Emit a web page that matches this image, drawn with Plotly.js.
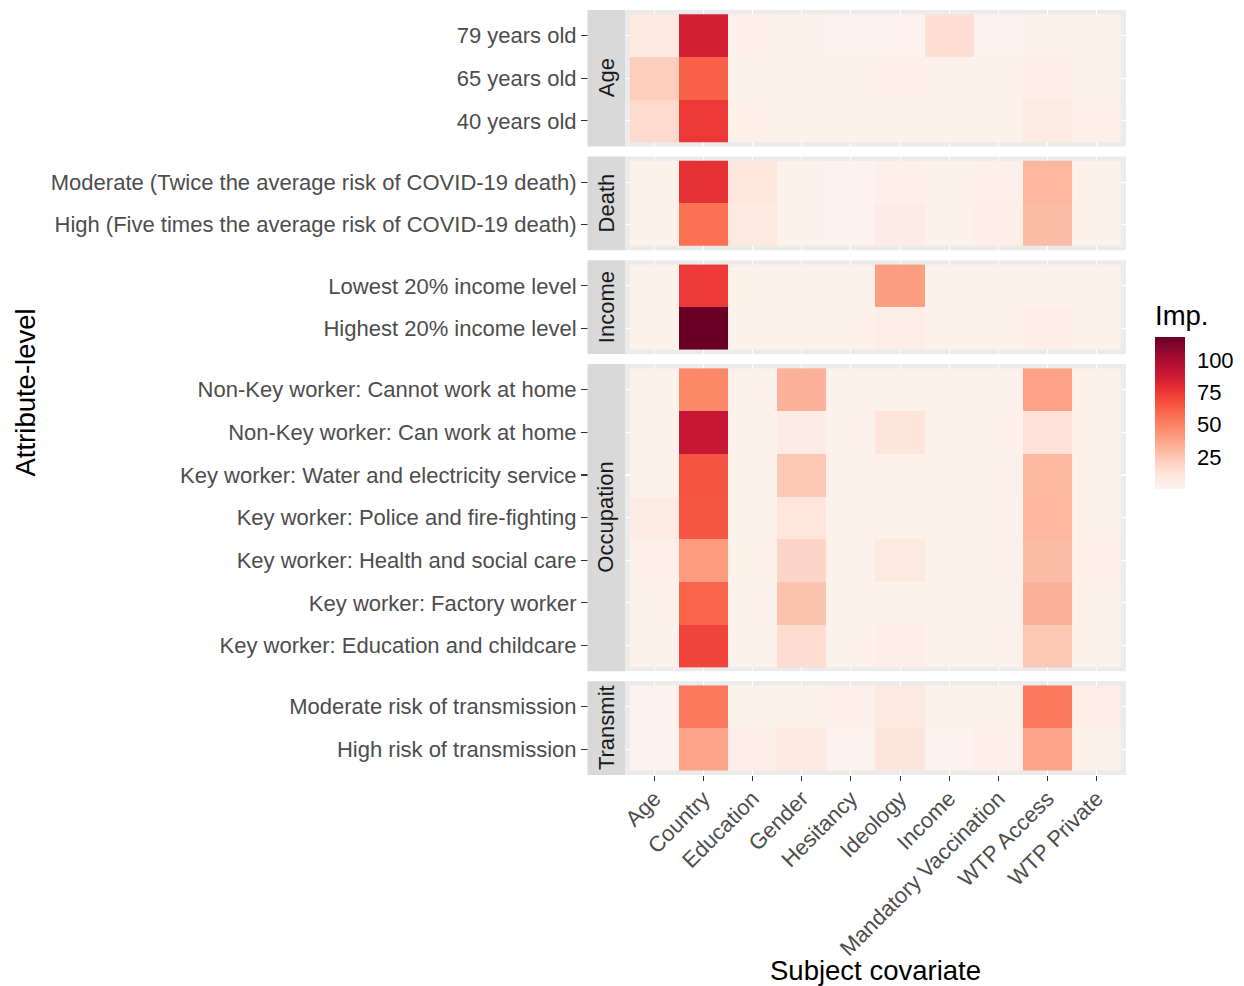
<!DOCTYPE html>
<html>
<head>
<meta charset="utf-8">
<script src="https://cdn.plot.ly/plotly-3.0.1.min.js"></script>
<style>
  html, body { margin: 0; padding: 0; background: #ffffff; }
  #chart { width: 1244px; height: 986px; }
</style>
</head>
<body>
<div id="chart"></div>
<script>
// Subject covariates (columns)
const covariates = ["Age", "Country", "Education", "Gender", "Hesitancy", "Ideology",
                    "Income", "Mandatory Vaccination", "WTP Access", "WTP Private"];

// Facet names (attributes)
const facetNames = ["Age", "Death", "Income", "Occupation", "Transmit"];

// Attribute levels, listed top to bottom within each facet
const ageLevels = ["79 years old", "65 years old", "40 years old"];
const deathLevels = ["Moderate (Twice the average risk of COVID-19 death)",
                     "High (Five times the average risk of COVID-19 death)"];
const incomeLevels = ["Lowest 20% income level", "Highest 20% income level"];
const occupationLevels = ["Non-Key worker: Cannot work at home",
                          "Non-Key worker: Can work at home",
                          "Key worker: Water and electricity service",
                          "Key worker: Police and fire-fighting",
                          "Key worker: Health and social care",
                          "Key worker: Factory worker",
                          "Key worker: Education and childcare"];
const transmitLevels = ["Moderate risk of transmission", "High risk of transmission"];

// Importance values: one row per level, one column per covariate
const ageImp = [
  [8, 85, 3, 2, 1.5, 1.5, 15, 1.5, 2, 2],
  [22, 62, 2.5, 2.5, 2, 3, 2, 2, 4.5, 2.5],
  [17, 75, 3, 2, 2, 2, 2, 2, 7, 3.5]
];
const deathImp = [
  [2, 78, 10, 2.5, 1.5, 3.5, 2, 3, 31, 2],
  [2, 57, 8, 2.5, 1.5, 6, 2, 4, 29, 2]
];
const incomeImp = [
  [2, 75, 2, 2.5, 2, 40, 2, 2, 2, 2],
  [2, 118, 2.5, 2, 2, 5, 2, 2, 4, 2]
];
const occupationImp = [
  [2, 48, 2, 33, 2, 2, 2, 2, 39, 2],
  [2, 90, 2, 6, 2, 12, 2, 2, 13, 2.5],
  [2, 66, 2, 24, 2, 2, 2, 2, 30, 2],
  [7, 65, 2, 10, 2, 2, 2, 2, 31, 2],
  [3, 41, 2, 19, 2, 8, 2, 2, 29, 3],
  [2, 61, 2, 26, 2, 2, 2, 2, 33, 2],
  [2, 71, 2, 16, 2, 4, 2, 2, 24, 2]
];
const transmitImp = [
  [1.5, 53, 2.5, 2.5, 3, 8, 2, 2, 53, 5.5],
  [1.5, 38, 5, 8, 1, 11, 1.5, 3, 38, 2]
];

// Colourbar ticks
const legendTicks = [25, 50, 75, 100];

const levelSets = [ageLevels, deathLevels, incomeLevels, occupationLevels, transmitLevels];
const valueSets = [ageImp, deathImp, incomeImp, occupationImp, transmitImp];

// ---- geometry (pixels) ----
const W = 1244, H = 986;
const M = { l: 625, r: 118, t: 10, b: 211 };
const plotW = W - M.l - M.r;
const plotH = H - M.t - M.b;
const panelGap = 10;
const totalUnits = levelSets.reduce((s, lv) => s + lv.length + 0.2, 0);
const unitPx = (plotH - panelGap * (levelSets.length - 1)) / totalUnits;

const FONT = '"Liberation Sans", Arial, Helvetica, sans-serif';
const TICK_SIZE = 22;
const TITLE_SIZE = 27.5;

// Sequential red palette (light blush to deep crimson)
const redsScale = [
  [0.000, '#fdf4f0'], [0.125, '#fee0d4'], [0.250, '#fcbba3'],
  [0.375, '#fc9274'], [0.500, '#fb6a4d'], [0.625, '#ef3b36'],
  [0.750, '#cc1834'], [0.875, '#a00b30'], [1.000, '#6a0026']
];

const allValues = valueSets.flat(2);
const zMin = 0;
const zMax = Math.max(...allValues);

const traces = [];
const layout = {
  width: W, height: H,
  margin: M,
  paper_bgcolor: '#ffffff',
  plot_bgcolor: '#EBEBEB',
  font: { family: FONT, color: '#000000' },
  showlegend: false,
  shapes: [],
  annotations: [],
  xaxis: {
    type: 'category',
    categoryorder: 'array',
    categoryarray: covariates,
    range: [-0.6, covariates.length - 0.4],
    domain: [0, 1],
    anchor: 'y' + levelSets.length,
    showgrid: true,
    gridcolor: '#ffffff',
    gridwidth: 1.1,
    zeroline: false,
    showline: false,
    ticks: 'outside',
    ticklen: 5,
    tickwidth: 1.1,
    tickcolor: '#333333',
    tickangle: -45,
    ticklabelstandoff: -4,
    tickfont: { family: FONT, size: TICK_SIZE, color: '#4D4D4D' },
    title: { text: 'Subject covariate', font: { family: FONT, size: TITLE_SIZE, color: '#000000' }, standoff: 6 },
    automargin: false,
    fixedrange: true
  },
  coloraxis: {
    colorscale: redsScale,
    cmin: zMin,
    cmax: zMax,
    colorbar: {
      title: { text: 'Imp.', side: 'top', font: { family: FONT, size: TITLE_SIZE, color: '#000000' } },
      thickness: 30, thicknessmode: 'pixels',
      len: 188, lenmode: 'pixels',
      x: (1155 - M.l) / plotW, xanchor: 'left',
      y: (H - M.b - 395) / plotH, yanchor: 'middle',
      xpad: 0, ypad: 0,
      outlinewidth: 0,
      tickmode: 'array',
      tickvals: legendTicks,
      ticktext: legendTicks.map(String),
      ticks: 'outside', ticklen: 8, tickwidth: 1, tickcolor: 'rgba(255,255,255,0)',
      tickfont: { family: FONT, size: TICK_SIZE, color: '#000000' }
    }
  }
};

let topPx = 0;
levelSets.forEach((levels, i) => {
  const yName = i === 0 ? 'y' : 'y' + (i + 1);
  const yKey = i === 0 ? 'yaxis' : 'yaxis' + (i + 1);
  const hPx = (levels.length + 0.2) * unitPx;
  const d1 = 1 - topPx / plotH;
  const d0 = 1 - (topPx + hPx) / plotH;
  topPx += hPx + panelGap;

  traces.push({
    type: 'heatmap',
    x: covariates,
    y: levels,
    z: valueSets[i],
    coloraxis: 'coloraxis',
    xaxis: 'x',
    yaxis: yName,
    xgap: 0, ygap: 0,
    hovertemplate: '%{y}<br>%{x}: %{z}<extra></extra>'
  });

  layout[yKey] = {
    type: 'category',
    categoryorder: 'array',
    categoryarray: levels,
    range: [levels.length - 0.4, -0.6],
    domain: [d0, d1],
    anchor: 'x',
    showgrid: true,
    gridcolor: '#ffffff',
    gridwidth: 1.1,
    zeroline: false,
    showline: false,
    ticks: 'outside',
    ticklen: 43,
    tickwidth: 1.1,
    tickcolor: '#333333',
    tickfont: { family: FONT, size: TICK_SIZE, color: '#4D4D4D' },
    automargin: false,
    fixedrange: true
  };

  // facet strip on the left of each panel
  layout.shapes.push({
    type: 'rect', layer: 'above',
    xref: 'paper', yref: yName + ' domain',
    x0: (587.5 - M.l) / plotW, x1: 0, y0: 0, y1: 1,
    fillcolor: '#D9D9D9', line: { width: 0 }
  });
  layout.annotations.push({
    xref: 'paper', yref: yName + ' domain',
    x: (606 - M.l) / plotW, y: 0.5,
    text: facetNames[i], textangle: -90,
    showarrow: false,
    xanchor: 'center', yanchor: 'middle',
    font: { family: FONT, size: TICK_SIZE, color: '#1A1A1A' }
  });
});

// shared y-axis title
layout.annotations.push({
  xref: 'paper', yref: 'paper',
  x: (25 - M.l) / plotW, y: 0.5,
  text: 'Attribute-level', textangle: -90,
  showarrow: false, xanchor: 'center', yanchor: 'middle',
  font: { family: FONT, size: TITLE_SIZE, color: '#000000' }
});

Plotly.newPlot('chart', traces, layout, { displayModeBar: false, staticPlot: true });
</script>
</body>
</html>
